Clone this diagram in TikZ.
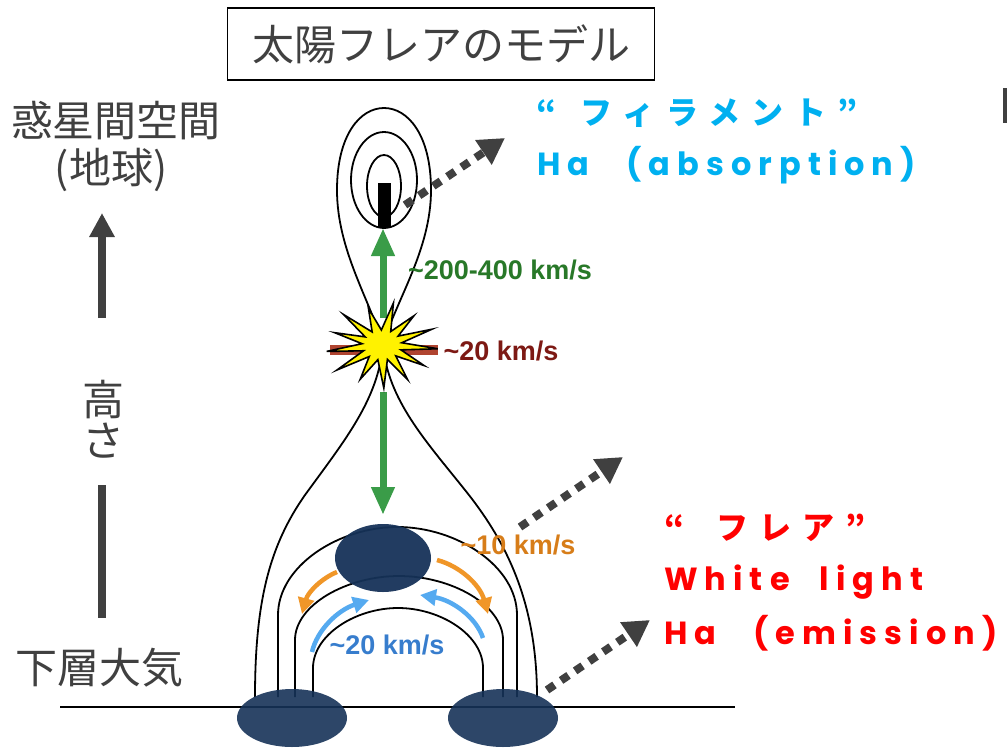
\documentclass[tikz,border=0pt]{standalone}
\usepackage{fontspec}
\setmainfont{Noto Sans CJK JP}
\newfontfamily\velfont{Liberation Sans}
\newfontfamily\handfont{Poppins}[LetterSpace=22]
\newfontfamily\kanafont{Noto Sans CJK JP}[LetterSpace=35]
\usetikzlibrary{arrows.meta}

\definecolor{txtgray}{RGB}{64,64,64}
\definecolor{plasma}{RGB}{22,50,88}
\definecolor{upflow}{RGB}{58,156,72}
\definecolor{velgreen}{RGB}{40,120,40}
\definecolor{outflow}{RGB}{176,68,48}
\definecolor{velred}{RGB}{125,25,20}
\definecolor{drain}{RGB}{240,150,40}
\definecolor{velorange}{RGB}{215,125,25}
\definecolor{evap}{RGB}{85,170,240}
\definecolor{velblue}{RGB}{55,125,205}
\definecolor{filcol}{RGB}{0,176,240}
\definecolor{flarecol}{RGB}{255,0,0}

\tikzset{
  field/.style={line width=1.8pt, black},
  flow/.style={line width=7pt, -{Triangle[length=28pt,width=22pt]}},
  drift/.style={line width=4.5pt, -{Triangle[length=16pt,width=16pt]}},
  pointer/.style={txtgray, line width=8pt, dash pattern=on 9pt off 8pt,
    -{Triangle[length=26pt,width=28pt]}},
  axis/.style={txtgray, line width=8pt},
  vel/.style={font=\velfont\bfseries\fontsize{27}{27}\selectfont, inner sep=0pt},
  hand/.style={font=\handfont\bfseries\fontsize{32}{32}\selectfont, anchor=west, inner sep=0pt},
  kana/.style={font=\kanafont\bfseries\fontsize{32}{32}\selectfont, anchor=west, inner sep=0pt},
  jlabel/.style={text=txtgray, font=\fontsize{42}{48}\selectfont, inner sep=0pt},
}

\begin{document}
\begin{tikzpicture}[x=1pt,y=-1pt]
\useasboundingbox (0,0) rectangle (1007,748);

% title box
\node[jlabel, draw=black, line width=1.2pt, minimum width=427pt, minimum height=72pt]
  (title) at (441,44) {太陽フレアのモデル};

% height axis on the left
\node[jlabel] (space) at (116,121) {惑星間空間};
\node[jlabel] (earth) at (111,170) {(地球)};
\node[jlabel] (h1) at (103,400) {高};
\node[jlabel] (h2) at (103,441) {さ};
\node[jlabel] (lower) at (100,668) {下層大気};
\coordinate (axtop) at (102,213);
\coordinate (axmid) at (102,318);
\coordinate (axlow) at (102,485);
\coordinate (axbot) at (102,618);
\draw[axis, -{Triangle[length=24pt,width=24pt]}] (axmid) -- (axtop);
\draw[axis] (axlow) -- (axbot);

% photosphere
\draw[line width=1.5pt] (60,707) -- (735,707);

% plasmoid field lines
\draw[field] (383,345) .. controls (370,300) and (337,250) .. (337,190)
  .. controls (337,135) and (360,108) .. (384,108)
  .. controls (408,108) and (431,135) .. (431,190)
  .. controls (431,250) and (396,300) .. (383,345);
\draw[field] (384,180) ellipse [x radius=33, y radius=48];
\draw[field] (384,186) ellipse [x radius=17, y radius=31];

% cusp below the x-point
\draw[field] (255,697) .. controls (255,600) and (270,545) .. (305,495)
  .. controls (345,440) and (378,400) .. (383,345)
  .. controls (388,400) and (425,440) .. (465,490)
  .. controls (505,540) and (537,600) .. (537,697);

% post-flare loops
\foreach \l/\r/\t/\s in {313/483/608/668, 295/503/576/640, 278/517/527/615}
  \draw[field] (\l,697) -- (\l,\s)
    .. controls (\l,{\t+0.45*(\s-\t)}) and ({\l+0.25*(\r-\l)},\t) .. ({(\l+\r)/2},\t)
    .. controls ({\r-0.25*(\r-\l)},\t) and (\r,{\t+0.45*(\s-\t)}) .. (\r,\s) -- (\r,697);

% loop top and footpoints
\fill[plasma, fill opacity=0.95] (383,558) ellipse [x radius=48, y radius=34];
\fill[plasma, fill opacity=0.9] (292,718) ellipse [x radius=55, y radius=29];
\fill[plasma, fill opacity=0.9] (503,718) ellipse [x radius=55, y radius=29];

% filament
\node[fill=black, minimum width=13pt, minimum height=45pt, inner sep=0pt]
  (filament) at (384.5,205.5) {};

% reconnection flows
\draw[flow, upflow] (383,318) -- (383,228);
\draw[flow, upflow] (383,392) -- (383,515);
\draw[outflow, line width=10pt] (330,350) -- (438,350);
\draw[fill=yellow, line width=1.6pt, line join=miter, shift={(382,345)}]
  (5:{56} and {43})
  \foreach \a/\rx/\ry in {18.9/20/15, 32.7/50/38, 46.5/20/15, 60.4/52/40,
      74.3/20/15, 88.1/55/43, 102/20/15, 115.8/50/38, 129.7/20/15,
      143.5/56/42, 157.4/20/15, 171.2/56/42, 185/20/15, 198.9/50/38,
      212.8/20/15, 226.6/56/42, 240.5/20/15, 254.3/50/38, 268.2/20/15,
      282/55/43, 295.9/20/15, 309.7/50/38, 323.6/20/15, 337.4/54/41,
      351.3/20/15} { -- (\a:{\rx} and {\ry}) } -- cycle;

% drainage and evaporation along the loops
\draw[drift, drain] (337,572) .. controls (322,578) and (308,592) .. (302,614);
\draw[drift, drain] (437,560) .. controls (460,566) and (480,585) .. (488,614);
\draw[drift, evap] (312,652) .. controls (317,630) and (338,610) .. (369,600);
\draw[drift, evap] (483,638) .. controls (476,617) and (452,600) .. (420,595);

% speeds
\node[vel, text=velgreen] (vup) at (500,270) {\textasciitilde200-400 km/s};
\node[vel, text=velred] (vout) at (501,351) {\textasciitilde20 km/s};
\node[vel, text=velorange] (vdrain) at (518,545) {\textasciitilde10 km/s};
\node[vel, text=velblue] (vevap) at (387,645) {\textasciitilde20 km/s};

% observation pointers
\coordinate (filtail) at (405,205);
\coordinate (filtip) at (505,138);
\coordinate (looptail) at (520,527);
\coordinate (looptip) at (623,457);
\coordinate (foottail) at (547,690);
\coordinate (foottip) at (650,620);
\draw[pointer] (filtail) -- (filtip);
\draw[pointer] (looptail) -- (looptip);
\draw[pointer] (foottail) -- (foottip);

\node[kana, text=filcol] (filname) at (536,113) {“\hspace{24pt}フィラメント”};
\node[hand, text=filcol] (filline) at (537,165) {Ha\hspace{37pt}(absorption)};
\node[kana, text=flarecol] (flarename) at (664,528) {“\hspace{32pt}フレア”};
\node[hand, text=flarecol] (wlight) at (664,582) {White\hspace{30pt}light};
\node[hand, text=flarecol] (flareline) at (664,633) {Ha\hspace{37pt}(emission)};

% edge of the next panel
\fill[txtgray] (1003,88) rectangle (1008,123);
\end{tikzpicture}
\end{document}
